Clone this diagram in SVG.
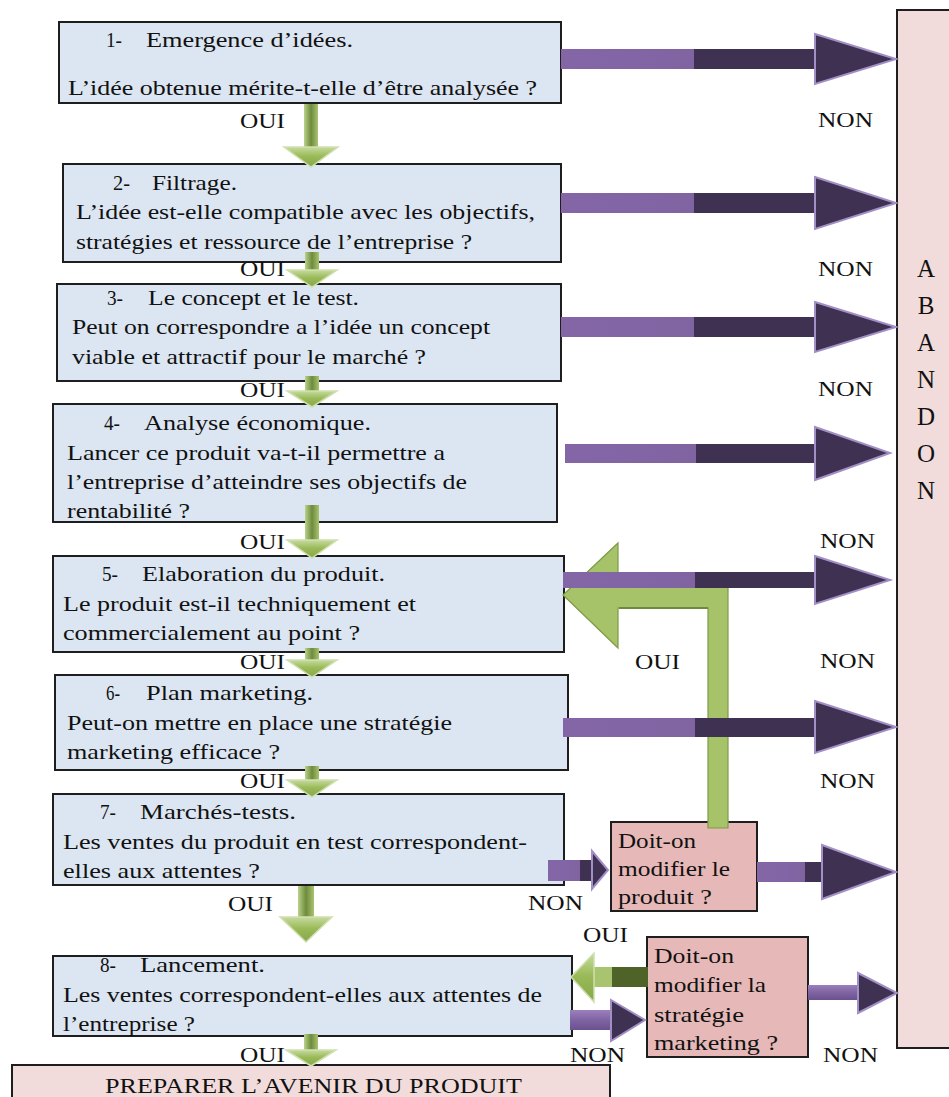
<svg xmlns="http://www.w3.org/2000/svg" width="949" height="1097" viewBox="0 0 949 1097">
<defs>
<linearGradient id="pShaft" x1="0" y1="0" x2="1" y2="0">
<stop offset="0" stop-color="#8466A6"/><stop offset="0.52" stop-color="#8064A2"/><stop offset="0.52" stop-color="#3F3151"/><stop offset="1" stop-color="#3F3151"/>
</linearGradient>
<linearGradient id="pShaftS" x1="0" y1="0" x2="1" y2="0">
<stop offset="0" stop-color="#8466A6"/><stop offset="0.72" stop-color="#8064A2"/><stop offset="0.72" stop-color="#3F3151"/><stop offset="1" stop-color="#3F3151"/>
</linearGradient>
<linearGradient id="pLight" x1="0" y1="0" x2="0" y2="1">
<stop offset="0" stop-color="#9A80BC"/><stop offset="0.5" stop-color="#8064A2"/><stop offset="1" stop-color="#6A5190"/>
</linearGradient>
<linearGradient id="gShaft" x1="0" y1="0" x2="1" y2="0">
<stop offset="0" stop-color="#B9D38A"/><stop offset="0.5" stop-color="#6E8B3D"/><stop offset="1" stop-color="#A9C46F"/>
</linearGradient>
<linearGradient id="gHead" x1="0" y1="0" x2="0" y2="1">
<stop offset="0" stop-color="#C6DBA0"/><stop offset="0.45" stop-color="#9BBB59"/><stop offset="1" stop-color="#86A64A"/>
</linearGradient>
<linearGradient id="gLeft" x1="0" y1="0" x2="1" y2="0">
<stop offset="0" stop-color="#A9C46F"/><stop offset="0.35" stop-color="#A9C46F"/><stop offset="0.35" stop-color="#4F6228"/><stop offset="1" stop-color="#4F6228"/>
</linearGradient>
</defs>
<style>
.box{fill:#DCE6F2;stroke:#1E1E1E;stroke-width:2}
.pink{fill:#E6B9B8;stroke:#1E1E1E;stroke-width:2}
.aband{fill:#F2DCDB;stroke:#1E1E1E;stroke-width:2}
text{font-family:"Liberation Serif","Times New Roman",serif;font-size:22px;fill:#111}
.big{font-size:25px}
.ph{fill:#3F3151;stroke:#A28FC6;stroke-width:2;stroke-linejoin:miter}
.pl{fill:url(#pLight)}
.gh{fill:url(#gHead);stroke:#CFE0AE;stroke-width:1.5}
.gs{fill:url(#gShaft)}
.gfb{fill:#A6C36A;stroke:#7E9A46;stroke-width:1.2}
</style>
<rect width="949" height="1097" fill="#FFFFFF"/>

<g id="abandon">
<rect class="aband" x="897" y="10" width="60" height="1038"/>
<text class="big" x="926" y="277" text-anchor="middle">A</text>
<text class="big" x="926" y="314" text-anchor="middle">B</text>
<text class="big" x="926" y="351" text-anchor="middle">A</text>
<text class="big" x="926" y="388" text-anchor="middle">N</text>
<text class="big" x="926" y="425" text-anchor="middle">D</text>
<text class="big" x="926" y="462" text-anchor="middle">O</text>
<text class="big" x="926" y="499" text-anchor="middle">N</text>
</g>

<g id="n1">
<rect class="box" x="59" y="22" width="502" height="81"/>
<text x="106" y="47" textLength="16" lengthAdjust="spacingAndGlyphs">1-</text>
<text x="146" y="47" textLength="207" lengthAdjust="spacingAndGlyphs">Emergence d’idées.</text>
<text x="68" y="95" textLength="469" lengthAdjust="spacingAndGlyphs">L’idée obtenue mérite-t-elle d’être analysée ?</text>
</g>
<g id="n2">
<rect class="box" x="63" y="164" width="498" height="98"/>
<text x="113" y="190" textLength="17" lengthAdjust="spacingAndGlyphs">2-</text>
<text x="152" y="190" textLength="85" lengthAdjust="spacingAndGlyphs">Filtrage.</text>
<text x="76" y="219" textLength="459" lengthAdjust="spacingAndGlyphs">L’idée est-elle compatible avec les objectifs,</text>
<text x="76" y="249" textLength="396" lengthAdjust="spacingAndGlyphs">stratégies et ressource de l’entreprise ?</text>
</g>
<g id="n3">
<rect class="box" x="57" y="284" width="504" height="97"/>
<text x="107" y="305" textLength="16" lengthAdjust="spacingAndGlyphs">3-</text>
<text x="148" y="305" textLength="211" lengthAdjust="spacingAndGlyphs">Le concept et le test.</text>
<text x="72" y="334" textLength="418" lengthAdjust="spacingAndGlyphs">Peut on correspondre a l’idée un concept</text>
<text x="72" y="364" textLength="354" lengthAdjust="spacingAndGlyphs">viable et attractif pour le marché ?</text>
</g>
<g id="n4">
<rect class="box" x="53" y="404" width="504" height="118"/>
<text x="104" y="430" textLength="16" lengthAdjust="spacingAndGlyphs">4-</text>
<text x="144" y="430" textLength="227" lengthAdjust="spacingAndGlyphs">Analyse économique.</text>
<text x="67" y="460" textLength="378" lengthAdjust="spacingAndGlyphs">Lancer ce produit va-t-il permettre a</text>
<text x="67" y="489" textLength="400" lengthAdjust="spacingAndGlyphs">l’entreprise d’atteindre ses objectifs de</text>
<text x="67" y="518" textLength="123" lengthAdjust="spacingAndGlyphs">rentabilité ?</text>
</g>
<g id="n5">
<rect class="box" x="53" y="556" width="511" height="96"/>
<text x="102" y="581" textLength="16" lengthAdjust="spacingAndGlyphs">5-</text>
<text x="142" y="581" textLength="243" lengthAdjust="spacingAndGlyphs">Elaboration du produit.</text>
<text x="63" y="611" textLength="353" lengthAdjust="spacingAndGlyphs">Le produit est-il techniquement et</text>
<text x="63" y="640" textLength="297" lengthAdjust="spacingAndGlyphs">commercialement au point ?</text>
</g>
<g id="n6">
<rect class="box" x="55" y="675" width="513" height="95"/>
<text x="106" y="700" textLength="14" lengthAdjust="spacingAndGlyphs">6-</text>
<text x="146" y="700" textLength="167" lengthAdjust="spacingAndGlyphs">Plan marketing.</text>
<text x="67" y="730" textLength="385" lengthAdjust="spacingAndGlyphs">Peut-on mettre en place une stratégie</text>
<text x="67" y="759" textLength="213" lengthAdjust="spacingAndGlyphs">marketing efficace ?</text>
</g>
<g id="n7">
<rect class="box" x="53" y="794" width="511" height="91"/>
<text x="100" y="819" textLength="16" lengthAdjust="spacingAndGlyphs">7-</text>
<text x="140" y="819" textLength="156" lengthAdjust="spacingAndGlyphs">Marchés-tests.</text>
<text x="63" y="849" textLength="464" lengthAdjust="spacingAndGlyphs">Les ventes du produit en test correspondent-</text>
<text x="63" y="878" textLength="197" lengthAdjust="spacingAndGlyphs">elles aux attentes ?</text>
</g>
<g id="n8">
<rect class="box" x="53" y="956" width="519" height="80"/>
<text x="100" y="972" textLength="16" lengthAdjust="spacingAndGlyphs">8-</text>
<text x="140" y="972" textLength="125" lengthAdjust="spacingAndGlyphs">Lancement.</text>
<text x="63" y="1002" textLength="479" lengthAdjust="spacingAndGlyphs">Les ventes correspondent-elles aux attentes de</text>
<text x="63" y="1031" textLength="132" lengthAdjust="spacingAndGlyphs">l’entreprise ?</text>
</g>
<g id="final">
<rect class="aband" x="12" y="1065" width="598" height="45"/>
<text x="105" y="1093" textLength="417" lengthAdjust="spacingAndGlyphs">PREPARER L’AVENIR DU PRODUIT</text>
</g>
<g id="q1">
<rect class="pink" x="611" y="822" width="146" height="89"/>
<text x="618" y="848" textLength="78" lengthAdjust="spacingAndGlyphs">Doit-on</text>
<text x="618" y="876" textLength="112" lengthAdjust="spacingAndGlyphs">modifier le</text>
<text x="618" y="904" textLength="94" lengthAdjust="spacingAndGlyphs">produit ?</text>
</g>
<g id="q2">
<rect class="pink" x="647" y="937" width="161" height="120"/>
<text x="654" y="963" textLength="80" lengthAdjust="spacingAndGlyphs">Doit-on</text>
<text x="654" y="992" textLength="112" lengthAdjust="spacingAndGlyphs">modifier la</text>
<text x="654" y="1022" textLength="90" lengthAdjust="spacingAndGlyphs">stratégie</text>
<text x="654" y="1050" textLength="124" lengthAdjust="spacingAndGlyphs">marketing ?</text>
</g>

<g id="connectors">
<path class="gfb" d="M708,828 L708,608 L618,608 L618,648 L563,595 L618,543 L618,587 L728,587 L728,828 Z"/>
<line x1="619" y1="608" x2="708" y2="608" stroke="#6E8B3D" stroke-width="2"/>
<g>
<rect class="gs" x="304" y="104" width="14" height="43"/><polygon class="gh" points="284,147 338,147 311,167"/>
<rect class="gs" x="305" y="252" width="14" height="18"/><polygon class="gh" points="287,270 337,270 312,287"/>
<rect class="gs" x="305" y="376" width="14" height="15"/><polygon class="gh" points="287,391 337,391 312,407"/>
<rect class="gs" x="305" y="505" width="14" height="35"/><polygon class="gh" points="287,540 337,540 312,558"/>
<rect class="gs" x="305" y="648" width="14" height="12"/><polygon class="gh" points="287,660 337,660 312,677"/>
<rect class="gs" x="305" y="766" width="14" height="14"/><polygon class="gh" points="287,780 337,780 312,797"/>
<rect class="gs" x="298" y="886" width="16" height="31"/><polygon class="gh" points="280,917 332,917 306,942"/>
<rect class="gs" x="304" y="1034" width="14" height="16"/><polygon class="gh" points="286,1050 336,1050 311,1066"/>
</g>
<rect x="593" y="967" width="55" height="20" fill="url(#gLeft)"/>
<polygon class="gh" points="594,953 594,1002 571,977"/>
<g>
<rect x="561" y="49" width="255" height="20" fill="url(#pShaft)"/><polygon class="ph" points="815,34 896,59 815,84"/>
<rect x="561" y="193" width="255" height="20" fill="url(#pShaft)"/><polygon class="ph" points="815,177 896,203 815,229"/>
<rect x="561" y="317" width="255" height="20" fill="url(#pShaft)"/><polygon class="ph" points="815,302 896,327 815,352"/>
<rect x="565" y="444" width="251" height="19" fill="url(#pShaft)"/><polygon class="ph" points="815,427 890,453 815,480"/>
<rect x="563" y="572" width="253" height="16" fill="url(#pShaft)"/><polygon class="ph" points="815,556 890,580 815,604"/>
<rect x="563" y="718" width="253" height="19" fill="url(#pShaft)"/><polygon class="ph" points="815,701 896,727 815,753"/>
<rect x="757" y="862" width="66" height="20" fill="url(#pShaftS)"/><polygon class="ph" points="822,845 896,872 822,899"/>
<rect x="808" y="985" width="51" height="15" class="pl"/><polygon class="ph" points="858,973 897,993 858,1013"/>
<rect x="548" y="860" width="45" height="21" fill="url(#pShaftS)"/><polygon class="ph" points="592,851 608,870 592,889"/>
<rect x="570" y="1010" width="42" height="20" class="pl"/><polygon class="ph" points="611,1000 645,1020 611,1041"/>
</g>
<g>
<text x="240" y="128" textLength="45" lengthAdjust="spacingAndGlyphs">OUI</text>
<text x="240" y="276" textLength="45" lengthAdjust="spacingAndGlyphs">OUI</text>
<text x="240" y="397" textLength="45" lengthAdjust="spacingAndGlyphs">OUI</text>
<text x="240" y="549" textLength="45" lengthAdjust="spacingAndGlyphs">OUI</text>
<text x="240" y="669" textLength="45" lengthAdjust="spacingAndGlyphs">OUI</text>
<text x="240" y="788" textLength="45" lengthAdjust="spacingAndGlyphs">OUI</text>
<text x="228" y="911" textLength="45" lengthAdjust="spacingAndGlyphs">OUI</text>
<text x="240" y="1062" textLength="45" lengthAdjust="spacingAndGlyphs">OUI</text>
<text x="635" y="669" textLength="45" lengthAdjust="spacingAndGlyphs">OUI</text>
<text x="583" y="942" textLength="45" lengthAdjust="spacingAndGlyphs">OUI</text>
<text x="818" y="127" textLength="55" lengthAdjust="spacingAndGlyphs">NON</text>
<text x="818" y="276" textLength="55" lengthAdjust="spacingAndGlyphs">NON</text>
<text x="818" y="396" textLength="55" lengthAdjust="spacingAndGlyphs">NON</text>
<text x="820" y="548" textLength="55" lengthAdjust="spacingAndGlyphs">NON</text>
<text x="820" y="668" textLength="55" lengthAdjust="spacingAndGlyphs">NON</text>
<text x="820" y="788" textLength="55" lengthAdjust="spacingAndGlyphs">NON</text>
<text x="528" y="910" textLength="55" lengthAdjust="spacingAndGlyphs">NON</text>
<text x="570" y="1062" textLength="55" lengthAdjust="spacingAndGlyphs">NON</text>
<text x="823" y="1062" textLength="55" lengthAdjust="spacingAndGlyphs">NON</text>
</g>
</g>
</svg>
